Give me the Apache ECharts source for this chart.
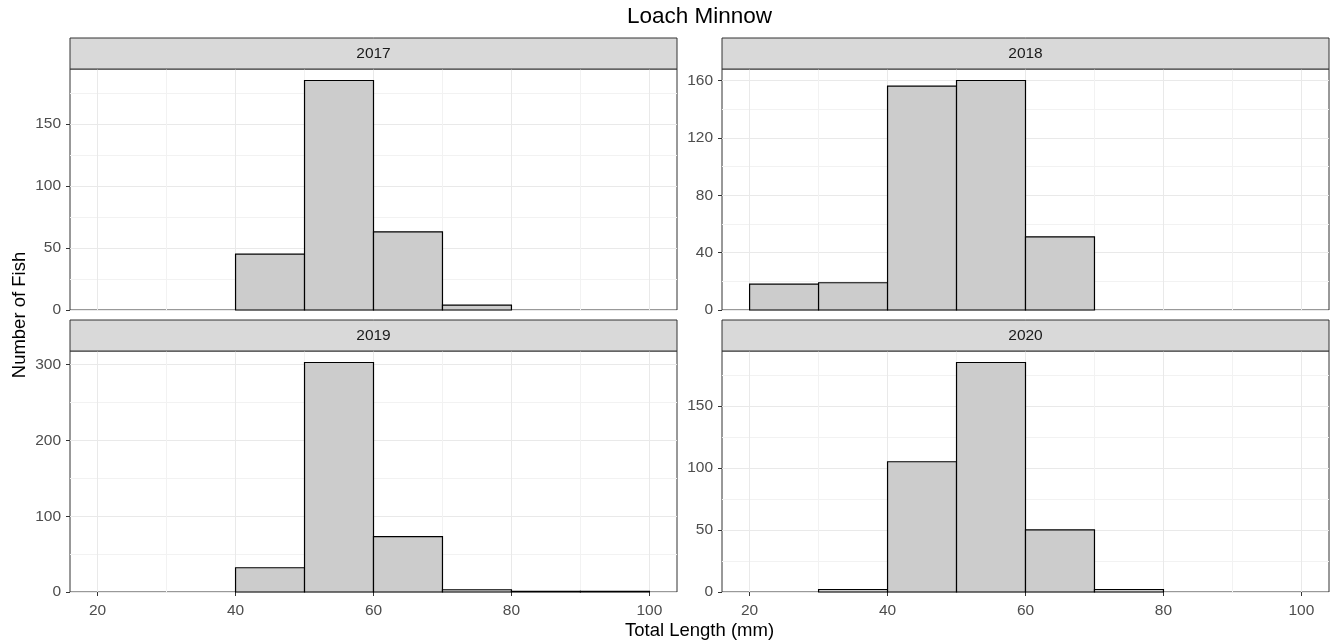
<!DOCTYPE html>
<html>
<head>
<meta charset="utf-8">
<title>Loach Minnow</title>
<script src="https://cdn.jsdelivr.net/npm/echarts@6/dist/echarts.min.js"></script>
<style>
  html, body { margin: 0; padding: 0; background: #ffffff; }
  #chart { width: 1338px; height: 644px; }
</style>
</head>
<body>
<div id="chart"></div>
<script>
// Length-frequency histograms of Loach Minnow, one facet per survey year.
const binStarts = [20, 30, 40, 50, 60, 70, 80, 90];
const binWidth = 10;
const years = ['2017', '2018', '2019', '2020'];
const counts2017 = [0, 0, 45, 185, 63, 4, 0, 0];
const counts2018 = [18, 19, 156, 160, 51, 0, 0, 0];
const counts2019 = [0, 0, 32, 303, 73, 3, 1, 1];
const counts2020 = [0, 2, 105, 185, 50, 2, 0, 0];

const xTicks = [20, 40, 60, 80, 100];
const xMinorTicks = [30, 50, 70, 90];
const yTicks2017 = [0, 50, 100, 150];
const yMinor2017 = [25, 75, 125, 175];
const yTicks2018 = [0, 40, 80, 120, 160];
const yMinor2018 = [20, 60, 100, 140];
const yTicks2019 = [0, 100, 200, 300];
const yMinor2019 = [50, 150, 250];
const yTicks2020 = [0, 50, 100, 150];
const yMinor2020 = [25, 75, 125, 175];

const titleText = 'Loach Minnow';
const xTitle = 'Total Length (mm)';
const yTitle = 'Number of Fish';

const FONT = "'Liberation Sans', Arial, sans-serif";

// facet layout (pixel boxes of the panels)
const panels = [
  { year: years[0], counts: counts2017, yTicks: yTicks2017, yMinor: yMinor2017, left: 70,  top: 69,  bottomAxis: false },
  { year: years[1], counts: counts2018, yTicks: yTicks2018, yMinor: yMinor2018, left: 722, top: 69,  bottomAxis: false },
  { year: years[2], counts: counts2019, yTicks: yTicks2019, yMinor: yMinor2019, left: 70,  top: 351, bottomAxis: true },
  { year: years[3], counts: counts2020, yTicks: yTicks2020, yMinor: yMinor2020, left: 722, top: 351, bottomAxis: true }
];
const PW = 607, PH = 241, STRIP_H = 31;

// x range: data span 20..100 padded by 5% each side; y: 0 .. max * 1.05
const xLo = binStarts[0], xHi = binStarts[binStarts.length - 1] + binWidth;
const xPad = (xHi - xLo) * 0.05;

const grids = [], xAxes = [], yAxes = [], series = [], graphics = [];

panels.forEach((p, i) => {
  const yMax = Math.max.apply(null, p.counts) * 1.05;
  grids.push({
    left: p.left, top: p.top, width: PW, height: PH,
    show: true, backgroundColor: '#ffffff', borderColor: '#333333', borderWidth: 1,
    containLabel: false, outerBoundsMode: 'none'
  });
  // major x axis (labels, ticks, major grid)
  xAxes.push({
    gridIndex: i, type: 'value', min: xLo - xPad, max: xHi + xPad,
    axisLine: { show: false },
    axisTick: { show: p.bottomAxis, customValues: xTicks, length: 4, lineStyle: { color: '#333333', width: 1 } },
    axisLabel: { show: p.bottomAxis, customValues: xTicks, color: '#4d4d4d', fontSize: 15.5, fontFamily: FONT, margin: 11 },
    splitLine: { show: true, lineStyle: { color: '#e9e9e9', width: 1 } }
  });
  // minor x grid
  xAxes.push({
    gridIndex: i, type: 'value', min: xLo - xPad, max: xHi + xPad,
    axisLine: { show: false },
    axisTick: { show: false, customValues: xMinorTicks },
    axisLabel: { show: false },
    splitLine: { show: true, lineStyle: { color: '#f2f2f2', width: 1 } }
  });
  yAxes.push({
    gridIndex: i, type: 'value', min: 0, max: yMax, position: 'left',
    axisLine: { show: false },
    axisTick: { show: true, customValues: p.yTicks, length: 4, lineStyle: { color: '#333333', width: 1 } },
    axisLabel: { show: true, customValues: p.yTicks, color: '#4d4d4d', fontSize: 15.5, fontFamily: FONT, margin: 9 },
    splitLine: { show: true, lineStyle: { color: '#e9e9e9', width: 1 } }
  });
  yAxes.push({
    gridIndex: i, type: 'value', min: 0, max: yMax,
    axisLine: { show: false },
    axisTick: { show: false, customValues: p.yMinor },
    axisLabel: { show: false },
    splitLine: { show: true, lineStyle: { color: '#f2f2f2', width: 1 } }
  });

  const data = binStarts
    .map((s, k) => [s, s + binWidth, p.counts[k]])
    .filter(d => d[2] > 0);

  series.push({
    type: 'custom',
    name: p.year,
    xAxisIndex: 2 * i,
    yAxisIndex: 2 * i,
    encode: { x: [0, 1], y: 2 },
    data: data,
    z: 3,
    renderItem: function (params, api) {
      const a = api.coord([api.value(0), api.value(2)]);
      const b = api.coord([api.value(1), 0]);
      return {
        type: 'rect',
        shape: { x: a[0], y: a[1], width: b[0] - a[0], height: b[1] - a[1] },
        style: { fill: '#cccccc', stroke: '#000000', lineWidth: 1.2 }
      };
    }
  });

  // facet strip
  graphics.push({
    type: 'rect',
    shape: { x: p.left, y: p.top - STRIP_H, width: PW, height: STRIP_H },
    style: { fill: '#d9d9d9', stroke: '#333333', lineWidth: 1 },
    z: 10
  });
  graphics.push({
    type: 'text',
    x: p.left + PW / 2, y: p.top - STRIP_H / 2,
    style: { text: p.year, fontSize: 15.5, fontFamily: FONT, fill: '#1a1a1a', align: 'center', verticalAlign: 'middle' },
    z: 11
  });
});

// plot title and axis titles, centred on the panel area
const centerX = (panels[0].left + panels[1].left + PW) / 2;
const centerY = (panels[0].top - STRIP_H + panels[2].top + PH) / 2;
graphics.push({
  type: 'text', x: centerX, y: 17,
  style: { text: titleText, fontSize: 22.5, fontFamily: FONT, fill: '#000000', align: 'center', verticalAlign: 'middle' }
});
graphics.push({
  type: 'text', x: centerX, y: 631,
  style: { text: xTitle, fontSize: 18.5, fontFamily: FONT, fill: '#000000', align: 'center', verticalAlign: 'middle' }
});
graphics.push({
  type: 'text', x: 19.5, y: centerY, rotation: Math.PI / 2,
  style: { text: yTitle, fontSize: 18.5, fontFamily: FONT, fill: '#000000', align: 'center', verticalAlign: 'middle' }
});

const chart = echarts.init(document.getElementById('chart'), null, { renderer: 'canvas' });
chart.setOption({
  animation: false,
  backgroundColor: '#ffffff',
  grid: grids,
  xAxis: xAxes,
  yAxis: yAxes,
  series: series,
  graphic: { elements: graphics }
});
</script>
</body>
</html>
